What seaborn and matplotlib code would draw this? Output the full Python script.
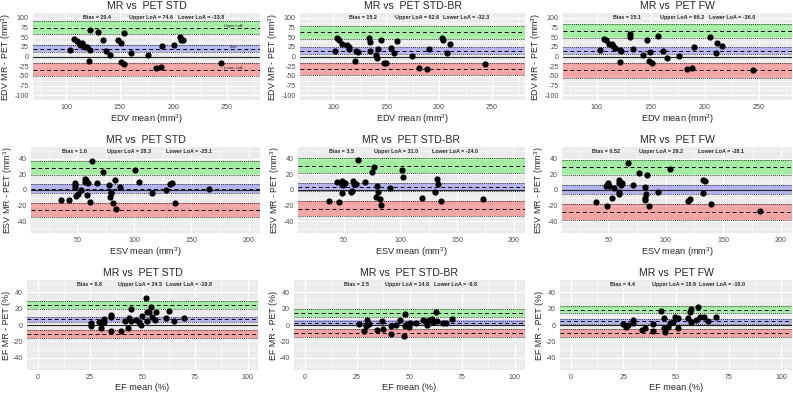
import numpy as np
import matplotlib
matplotlib.use("Agg")
import matplotlib.pyplot as plt
import seaborn as sns

methods = ["STD", "STD-BR", "FW"]

# EDV (mean, MR - PET difference)
edv_std_mean = [103.8, 107.5, 110, 111.6, 112.5, 114.4, 115.6, 117.2, 119.4, 121.9, 121.3, 122.5, 129.4, 134,
                136.9, 140.6, 148, 150.6, 151, 153.8, 154, 160, 176, 184, 188.8, 189.7, 200.6, 206, 207.2, 209.4, 244.4]
edv_std_diff = [15.7, 45, 39, 35, 30, 35, 30, 23.5, 23.5, 68, -11, 17, 63, 43,
                15, 2.6, 43, 35, -13, -19, 60, 9.6, 2.6, -28.7, -27, 28, 29.6, 49.6, 43.5, 42, -15.7]
edv_br_mean = [101.6, 103.4, 105.3, 108.8, 113.4, 114.7, 114.7, 120.3, 121.9, 123.4, 134, 134.4, 135, 140.3,
               141, 142.8, 145.3, 147.8, 149.7, 154.7, 157.5, 160, 174, 181, 188.4, 190.6, 202.5, 204, 207.8, 210, 243]
edv_br_diff = [15, 47, 43.5, 32, 30, 24, 20, -11, 13, 11, 48, 15, 36.5, 2.6,
               -4, 20, 42, -15.7, -18, 22, 8.7, 41, 1.7, -30, -33, 19, 48.7, 43.5, 8.7, 33, -19]
edv_fw_mean = [103, 106.9, 108.5, 111, 114.1, 115.4, 116.6, 121.6, 122.6, 121.6, 131.3, 131.3, 133.5, 142.9, 147,
               148.6, 149.8, 151.4, 157, 161, 164.9, 176.5, 184, 188.4, 190.6, 205.3, 210.3, 211.3, 216, 244.8]
edv_fw_diff = [15.7, 45, 41.7, 33, 33, 26, 21.7, 17.4, 14.8, -13, 59, 50, 19, 2.6, 42.6,
               -11.3, 11.3, -17.4, 53, 13, -2.6, 0.9, -31, -28.7, 25, 49.6, 8.7, 34.8, 26, -35.7]

# ESV
esv_std_mean = [36, 43, 48, 48, 48.2, 48.8, 50.6, 53.2, 56.4, 56.4, 57.6, 58.8, 59.4, 61, 62.9, 67.5, 72.8,
                78, 79, 79.5, 79.8, 81, 83, 83.6, 87.4, 100.6, 104.4, 115.5, 127.5, 131.3, 133, 136, 165.2]
esv_std_diff = [-12.5, -13, 8.7, 6, 3.5, -7.4, -5.7, 0, 13.9, 10, 12.2, -7, 8.7, -14.8, 36.5, 8.7, 23.5,
                6.5, -8.7, -2.6, -4.3, -16.5, 13, -24, 4.3, 25.2, 10, -4.3, -0.4, 8.3, 8.7, -16.5, 0.9]
esv_br_mean = [36.5, 43.9, 45.3, 47.7, 48.8, 49.4, 48.8, 50.9, 56.1, 57.6, 58.2, 58.8, 60.5, 62.6, 69, 74.9,
               76.3, 78.7, 79.5, 80.1, 81.6, 83, 90.4, 101.8, 102.6, 119.3, 130.7, 131.9, 133, 136, 172.8]
esv_br_diff = [-14, 9.6, -15, 8.7, 11.3, 7, -4.3, 8.7, -2.2, -0.9, 11.7, 7.8, 7.8, 38, 9.6, 23,
               29, -8.7, 5.7, -2.2, -10.9, -19.6, 2.2, 25.2, 16.5, -9.6, -3, 14.3, 7.8, -14, -11.3]
esv_fw_mean = [39, 48.8, 47.7, 50, 50.6, 52.9, 55, 59.4, 59.4, 59.4, 59.4, 61.1, 61.7, 67, 71.7, 77,
               81.6, 81.6, 81.6, 82.5, 83.3, 85, 93.3, 103.3, 119.6, 120.8, 132, 134.4, 132.6, 139, 182.3]
esv_fw_diff = [-15.4, -20.6, 5, 8.8, 5.3, -10.5, 2.2, 13, 9, -2.2, -4.8, 6.6, 9.2, 34, 6.6, 21.5,
               4.4, -9.6, -12.7, -5.3, 18.9, -21, -2.6, 26.3, -14, -11, 13, 11.8, -3.5, -17.5, -27]

# EF
ef_std_mean = [25.5, 25.6, 29.5, 30.4, 30.7, 31.5, 31.7, 35, 35.2, 35.2, 39.8, 41.6, 43.5, 43.3, 44.6, 44.7,
               47.1, 48.2, 49.4, 49.7, 51.9, 52.2, 52.2, 53, 54.1, 54.3, 55.9, 56.2, 61.3, 62.7, 65.1, 69.7]
ef_std_diff = [2, -1.2, 3.7, -4, 3.7, 7, 3.7, 10.2, 12.3, -7, -7.8, 4.9, 9, -3.7, 19.3, 4.9,
               6.1, 3.3, 0, 11, 32.4, 15.6, 4.9, 16.4, 22.5, 10.2, 5.7, 16, 9, 16.8, 4.9, 8.2]
ef_br_mean = [26, 28.3, 29.1, 29.9, 30.7, 34.6, 36.7, 37.2, 41.4, 41.4, 43.8, 45.4, 47.7, 47.6, 48, 48.8,
              49.9, 50, 53, 56.4, 57.3, 58.3, 59.4, 60.6, 61.4, 62.7, 63.3, 66.1, 67.2, 70]
ef_br_diff = [1.2, -7, -1.7, 6.2, 1.2, -5.8, 5.4, -5, -0.8, -11.3, 0, 6.2, 13, -13.3, -1.7, 1.2,
              -2.9, 2, 3, 6.2, 4.6, 0, 6.2, 7.5, 3.3, 15.8, 5.4, 2, 2, 7.5]
ef_fw_mean = [25.1, 26.2, 27.3, 29.4, 29.8, 34.1, 35.2, 38.9, 39.2, 42.9, 44.1, 44.1, 44.9, 46, 47.3,
              48.4, 49.5, 50.8, 51.1, 55.6, 56.7, 57.1, 57.1, 59.5, 60.3, 61.4, 63.5, 65.1, 69]
ef_fw_diff = [0.8, -3, 0, 6.3, 2, -5.5, -4.2, 0.8, -7.2, 16.9, 8.4, -4.2, -8.4, -2, 2,
              4.2, 9.7, 8, -3.4, 8.4, 15.6, 19, 4.2, 6.3, 22, 9.7, 9.7, 5, 9.7]

# Bias / limits of agreement (from annotations) and CI half-widths of the bands
edv_bias = [20.4, 15.2, 15.1]
edv_upper = [74.6, 62.6, 66.2]
edv_lower = [-33.8, -32.3, -36.0]
edv_bias_ci = [9.5, 8.5, 9.0]
edv_loa_ci = [17.5, 16.5, 18.5]

esv_bias = [1.6, 3.5, 0.52]
esv_upper = [28.3, 31.0, 29.2]
esv_lower = [-25.1, -24.0, -28.1]
esv_bias_ci = [5.5, 5.0, 5.8]
esv_loa_ci = [9.0, 9.3, 9.8]

ef_bias = [6.8, 2.5, 4.4]
ef_upper = [24.5, 14.8, 18.9]
ef_lower = [-10.8, -9.8, -10.0]
ef_bias_ci = [3.5, 3.0, 3.4]
ef_loa_ci = [5.3, 4.6, 4.8]

rows = [
    dict(name="EDV", unit="(mm$^3$)",
         means=[edv_std_mean, edv_br_mean, edv_fw_mean], diffs=[edv_std_diff, edv_br_diff, edv_fw_diff],
         bias=edv_bias, upper=edv_upper, lower=edv_lower, bci=edv_bias_ci, lci=edv_loa_ci,
         xlim=(68.75, 281), ylim=(-112, 112), xt=[100, 150, 200, 250], xm=[75, 125, 175, 225, 275],
         yt=list(range(-100, 101, 25)), ym=list(np.arange(-87.5, 88, 25)), txt_x=[0.28, 0.52, 0.74]),
    dict(name="ESV", unit="(mm$^3$)",
         means=[esv_std_mean, esv_br_mean, esv_fw_mean], diffs=[esv_std_diff, esv_br_diff, esv_fw_diff],
         bias=esv_bias, upper=esv_upper, lower=esv_lower, bci=esv_bias_ci, lci=esv_loa_ci,
         xlim=(9.5, 210), ylim=(-55, 55), xt=[50, 100, 150, 200], xm=[25, 75, 125, 175],
         yt=[-40, -20, 0, 20, 40], ym=[-50, -30, -10, 10, 30, 50], txt_x=[0.19, 0.43, 0.69]),
    dict(name="EF", unit="(%)",
         means=[ef_std_mean, ef_br_mean, ef_fw_mean], diffs=[ef_std_diff, ef_br_diff, ef_fw_diff],
         bias=ef_bias, upper=ef_upper, lower=ef_lower, bci=ef_bias_ci, lci=ef_loa_ci,
         xlim=(-5, 105), ylim=(-55, 55), xt=[0, 25, 50, 75, 100], xm=[12.5, 37.5, 62.5, 87.5],
         yt=[-40, -20, 0, 20, 40], ym=[-50, -30, -10, 10, 30, 50], txt_x=[0.27, 0.49, 0.70]),
]

sns.set_theme(style="darkgrid", rc={"axes.facecolor": "#EBEBEB", "grid.color": "white"})
plt.rcParams["font.family"] = ["Liberation Sans", "DejaVu Sans"]
plt.rcParams["mathtext.fontset"] = "custom"
plt.rcParams["mathtext.rm"] = "Liberation Sans"
plt.rcParams["axes.unicode_minus"] = False

W, H = 793, 393
fig = plt.figure(figsize=(W / 100, H / 100), dpi=100)

# panel boxes in pixels: (top, bottom) per row, (left, right) per row/col
row_tb = [(13, 100), (147, 233), (280, 370)]
col_lr = [[(33, 260), (300, 525), (563, 792)],
          [(31, 260), (298, 525), (562, 792)],
          [(27, 258), (294, 525), (560, 792)]]

for r, row in enumerate(rows):
    top, bot = row_tb[r]
    for c in range(3):
        l, rr = col_lr[r][c]
        ax = fig.add_axes([l / W, 1 - bot / H, (rr - l) / W, (bot - top) / H])
        b, up, lo = row["bias"][c], row["upper"][c], row["lower"][c]
        bci, lci = row["bci"][c], row["lci"][c]

        # CI bands around the limits and the bias
        ax.axhspan(up - lci, up + lci, color="#00EE00", alpha=0.3, lw=0, zorder=1)
        ax.axhspan(b - bci, b + bci, color="#2222FF", alpha=0.28, lw=0, zorder=1)
        ax.axhspan(lo - lci, lo + lci, color="#FF2020", alpha=0.35, lw=0, zorder=1)
        for y0, h in [(up, lci), (b, bci), (lo, lci)]:
            ax.axhline(y0 - h, color="black", ls=(0, (1, 1.5)), lw=0.6, zorder=2)
            ax.axhline(y0 + h, color="black", ls=(0, (1, 1.5)), lw=0.6, zorder=2)
            ax.axhline(y0, color="black", ls=(0, (4, 3)), lw=0.7, zorder=2)
        ax.axhline(0, color="#222222", lw=0.8, zorder=2)

        sns.scatterplot(x=row["means"][c], y=row["diffs"][c], ax=ax, color="black",
                        s=20, linewidth=0, zorder=3)

        ax.set_xlim(row["xlim"])
        ax.set_ylim(row["ylim"])
        ax.set_xticks(row["xt"])
        ax.set_yticks(row["yt"])
        ax.set_xticks(row["xm"], minor=True)
        ax.set_yticks(row["ym"], minor=True)
        ax.grid(True, which="major", color="white", lw=0.8)
        ax.grid(True, which="minor", color="white", lw=0.4)
        ax.tick_params(which="major", length=2, width=0.6, color="#333333",
                       labelsize=5.1, labelcolor="#4D4D4D", pad=1)
        ax.tick_params(which="minor", length=0)
        for s in ax.spines.values():
            s.set_visible(False)

        ax.set_title(f"MR vs  PET {methods[c]}", fontsize=7.6, pad=3)
        ax.set_xlabel(f"{row['name']} mean {row['unit']}", fontsize=6.6, labelpad=1)
        ax.set_ylabel(f"{row['name']} MR - PET {row['unit']}", fontsize=6.4, labelpad=1)

        tx = row["txt_x"]
        kw = dict(transform=ax.transAxes, ha="center", va="center", fontsize=3.9,
                  fontweight="bold", zorder=4)
        ax.text(tx[0], 0.945, f"Bias = {b:g}", **kw)
        ax.text(tx[1], 0.945, f"Upper LoA = {up:.1f}", **kw)
        ax.text(tx[2], 0.945, f"Lower LoA = {lo:.1f}", **kw)

        if r == 0 and c == 0:
            ax.text(256, up + 4, "Upper LoA", ha="center", va="center", fontsize=2.8, zorder=4)
            ax.text(256, b + 3, "Bias", ha="center", va="center", fontsize=2.8, zorder=4)
            ax.text(256, lo + 3, "Lower LoA", ha="center", va="center", fontsize=2.8, zorder=4)

fig.savefig("out.png", dpi=100)
